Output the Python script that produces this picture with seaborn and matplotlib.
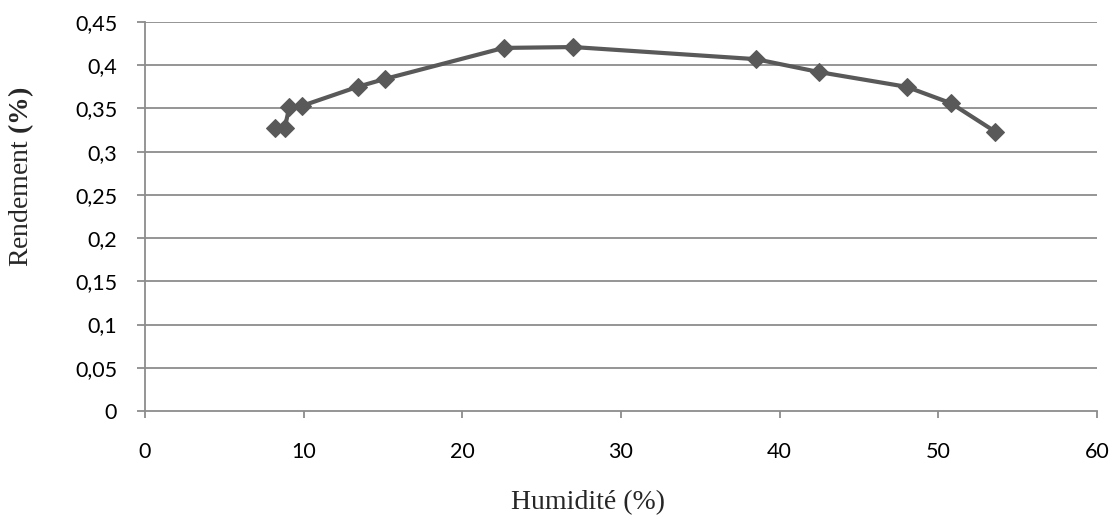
import pandas as pd
import seaborn as sns
import matplotlib.pyplot as plt

# values
humidite = [8.2, 8.8, 9.1, 9.9, 13.4, 15.1, 22.6, 27.0, 38.5, 42.5, 48.0, 50.8, 53.6]
rendement = [0.327, 0.327, 0.352, 0.353, 0.375, 0.384, 0.420, 0.421, 0.407, 0.392, 0.375, 0.356, 0.323]
x_ticks = [0, 10, 20, 30, 40, 50, 60]
y_ticks = [0, 0.05, 0.1, 0.15, 0.2, 0.25, 0.3, 0.35, 0.4, 0.45]
y_labels = ["0", "0,05", "0,1", "0,15", "0,2", "0,25", "0,3", "0,35", "0,4", "0,45"]


def main():
    sns.set_style("white")
    plt.rcParams["font.family"] = ["Lato", "DejaVu Sans"]
    plt.rcParams["mathtext.fontset"] = "custom"
    plt.rcParams["mathtext.rm"] = "Liberation Serif"
    plt.rcParams["mathtext.bf"] = "Liberation Serif:bold"
    data = pd.DataFrame({"Humidite": humidite, "Rendement": rendement})

    fig = plt.figure(figsize=(11.13, 5.16), dpi=100)
    ax = fig.add_axes([0.1303, 0.2035, 0.8553, 0.7539])

    grid_color = "#8c8c8c"
    ax.set_ylim(0, 0.45)
    ax.set_xlim(0, 60)
    ax.set_yticks(y_ticks)
    ax.set_yticklabels(y_labels)
    ax.set_xticks(x_ticks)
    for y in y_ticks[1:]:
        ax.axhline(y, color=grid_color, lw=1.3, zorder=0)

    sns.lineplot(data=data, x="Humidite", y="Rendement", ax=ax, color="#595959",
                 lw=3, marker="D", markersize=9, markeredgecolor="#595959",
                 zorder=3, clip_on=False)

    for side in ["top", "right"]:
        ax.spines[side].set_visible(False)
    for side in ["left", "bottom"]:
        ax.spines[side].set_color(grid_color)
        ax.spines[side].set_linewidth(1.3)
    ax.tick_params(axis="y", direction="out", length=6, width=1.3, color=grid_color,
                   pad=14, labelsize=15.5, labelcolor="black", left=True)
    ax.tick_params(axis="x", direction="out", length=5, width=1.3, color=grid_color,
                   pad=17, labelsize=15.5, labelcolor="black", bottom=True)

    ax.set_xlabel("Humidité (%)", family="Liberation Serif", fontsize=20)
    ax.set_ylabel(r"Rendement $\mathbf{(\%)}$", family="Liberation Serif", fontsize=20)
    ax.xaxis.set_label_coords(0.465, -0.203)
    ax.yaxis.set_label_coords(-0.115, 0.603)

    plt.savefig("out.png", dpi=100)


if __name__ == "__main__":
    main()
